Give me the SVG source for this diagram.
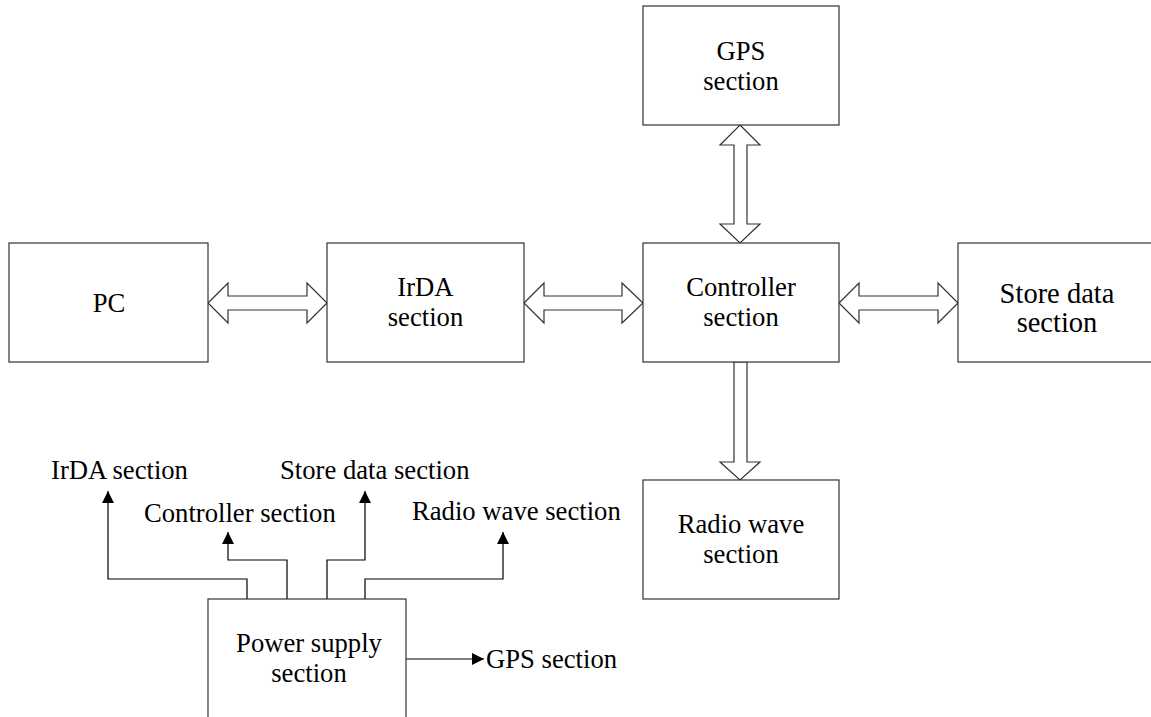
<svg xmlns="http://www.w3.org/2000/svg" width="1151" height="717" viewBox="0 0 1151 717">
<style>
.box{fill:#fff;stroke:#333;stroke-width:1.2}
text{font-family:"Liberation Serif","DejaVu Serif","Times New Roman",Times,serif;font-size:26.67px;fill:#000}
.t{text-anchor:middle}
.big{font-size:28.5px}
.dbl{fill:#fff;stroke:#333;stroke-width:1.2;stroke-linejoin:miter}
.ln{fill:none;stroke:#000;stroke-width:1.2}
</style>
<defs>
<marker id="ah" viewBox="0 0 12 12" refX="12" refY="6" markerWidth="12" markerHeight="12" markerUnits="userSpaceOnUse" orient="auto">
<path d="M0,0 L12,6 L0,12 z" fill="#000"/>
</marker>
</defs>
<rect width="1151" height="717" fill="#fff"/>
<g id="connectors">
<polygon class="dbl" points="208,303 228,283 228,296 307,296 307,283 327,303 307,323 307,310 228,310 228,323"/>
<polygon class="dbl" points="524,303 544,283 544,296 622,296 622,283 643,303 622,323 622,310 544,310 544,323"/>
<polygon class="dbl" points="839,303 859,283 859,296 938,296 938,283 958,303 938,323 938,310 859,310 859,323"/>
<polygon class="dbl" points="740,125 760,145 747,145 747,224 760,224 740,243 720,224 734,224 734,145 720,145"/>
<polygon class="dbl" points="734,362 734,462 720,462 740,480 760,462 747,462 747,362"/>
<polyline class="ln" points="247,599 247,579 108,579 108,491" marker-end="url(#ah)"/>
<polyline class="ln" points="287,599 287,560 228,560 228,532" marker-end="url(#ah)"/>
<polyline class="ln" points="327,599 327,560 365,560 365,491" marker-end="url(#ah)"/>
<polyline class="ln" points="365,599 365,579 503,579 503,532" marker-end="url(#ah)"/>
<line class="ln" x1="406" y1="659" x2="484" y2="659" marker-end="url(#ah)"/>
</g>
<g id="pc">
<rect class="box" x="9" y="243" width="199" height="119"/>
<text class="t" x="109" y="312" font-family="Liberation Serif, serif">PC</text>
</g>
<g id="irda">
<rect class="box" x="327" y="243" width="197" height="119"/>
<text class="t" x="425.5" y="296">IrDA</text>
<text class="t" x="425.5" y="326">section</text>
</g>
<g id="controller">
<rect class="box" x="643" y="243" width="196" height="119"/>
<text class="t" x="741" y="296">Controller</text>
<text class="t" x="741" y="326">section</text>
</g>
<g id="gps">
<rect class="box" x="643" y="6" width="196" height="119"/>
<text class="t" x="741" y="60">GPS</text>
<text class="t" x="741" y="90">section</text>
</g>
<g id="store">
<rect class="box" x="958" y="243" width="198" height="119"/>
<text class="t big" x="1057" y="303">Store data</text>
<text class="t big" x="1057" y="332">section</text>
</g>
<g id="radio">
<rect class="box" x="643" y="480" width="196" height="119"/>
<text class="t" x="741" y="533">Radio wave</text>
<text class="t" x="741" y="563">section</text>
</g>
<g id="power">
<rect class="box" x="208" y="599" width="198" height="130"/>
<text class="t" x="309" y="652">Power supply</text>
<text class="t" x="309" y="682">section</text>
</g>
<g id="labels">
<text x="51" y="479">IrDA section</text>
<text x="144" y="522">Controller section</text>
<text x="280" y="479">Store data section</text>
<text x="412" y="520">Radio wave section</text>
<text x="486" y="668">GPS section</text>
</g>
</svg>
